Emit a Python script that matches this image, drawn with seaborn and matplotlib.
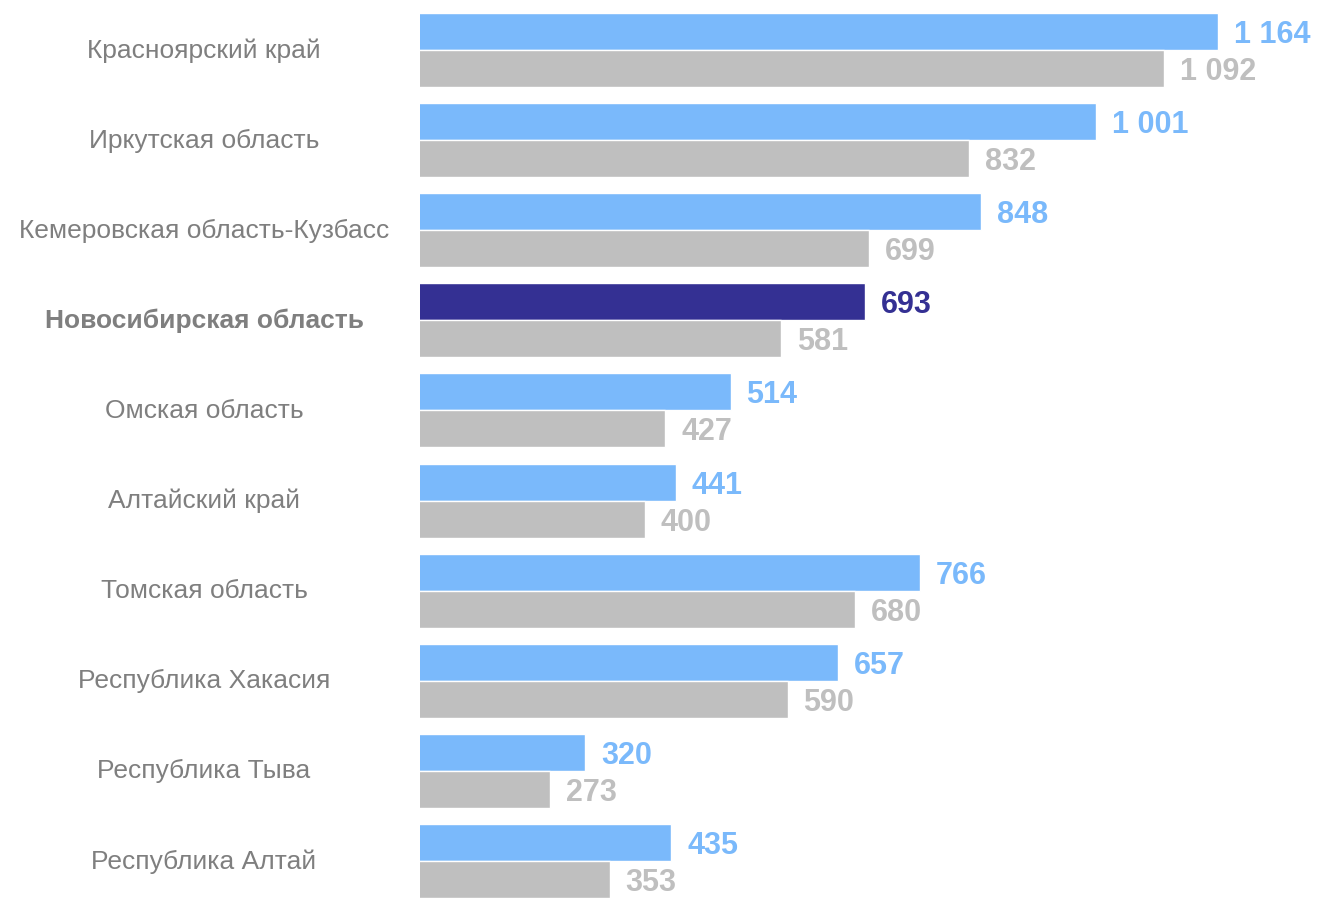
import matplotlib
matplotlib.use('Agg')
import matplotlib.pyplot as plt
import matplotlib.transforms as mtransforms
import seaborn as sns
import pandas as pd

regions = ["Красноярский край", "Иркутская область", "Кемеровская область-Кузбасс",
           "Новосибирская область", "Омская область", "Алтайский край",
           "Томская область", "Республика Хакасия", "Республика Тыва", "Республика Алтай"]
values_current = [1164, 1001, 848, 693, 514, 441, 766, 657, 320, 435]
values_previous = [1092, 832, 699, 581, 427, 400, 680, 590, 273, 353]
series_names = ["Текущий", "Предыдущий"]
highlight = "Новосибирская область"

BLUE = "#7AB9FB"
DARK = "#343093"
GRAY = "#BFBFBF"
LABEL_GRAY = "#7F7F7F"

sns.set_theme(style="white")
plt.rcParams['font.family'] = ['Liberation Sans', 'DejaVu Sans']

df = pd.DataFrame({
    "region": regions * 2,
    "value": values_current + values_previous,
    "series": [series_names[0]] * len(regions) + [series_names[1]] * len(regions),
})

fig = plt.figure(figsize=(13.2, 8.98), dpi=100)
ax = fig.add_axes([420 / 1320, 0, 900 / 1320, 885 / 898])

sns.barplot(data=df, y="region", x="value", hue="series", orient="h",
            palette=[BLUE, GRAY], width=0.82, gap=0, saturation=1,
            legend=False, ax=ax, order=regions, hue_order=series_names)

hi_idx = regions.index(highlight)
cur_bars = ax.containers[0]
prev_bars = ax.containers[1]
cur_bars[hi_idx].set_facecolor(DARK)

def fmt(v):
    return f"{v:,}".replace(",", " ")

for i, bar in enumerate(cur_bars):
    v = values_current[i]
    y = bar.get_y() + bar.get_height() / 2
    ax.annotate(fmt(v), xy=(v, y), xytext=(11.5, -2.5), textcoords="offset points",
                va="center", ha="left", fontsize=22, fontweight="bold",
                color=DARK if i == hi_idx else BLUE)
for i, bar in enumerate(prev_bars):
    v = values_previous[i]
    y = bar.get_y() + bar.get_height() / 2
    ax.annotate(fmt(v), xy=(v, y), xytext=(11.5, -2.5), textcoords="offset points",
                va="center", ha="left", fontsize=22, fontweight="bold",
                color=GRAY)

ax.set_xlim(100, 1300)
ax.set_ylim(len(regions) - 1 + 0.41, -0.41)
ax.set_xlabel("")
ax.set_ylabel("")
ax.set_xticks([])
for s in ax.spines.values():
    s.set_visible(False)

ax.set_yticks(range(len(regions)))
ax.set_yticklabels(regions, ha="center", fontsize=19, color=LABEL_GRAY)
ax.tick_params(axis="y", length=0, pad=216 * 0.72)
shift = mtransforms.ScaledTranslation(0, 2 / 100, fig.dpi_scale_trans)
for lbl in ax.get_yticklabels():
    lbl.set_transform(lbl.get_transform() + shift)
    if lbl.get_text() == highlight:
        lbl.set_fontweight("bold")

fig.savefig("out.png", dpi=100)
